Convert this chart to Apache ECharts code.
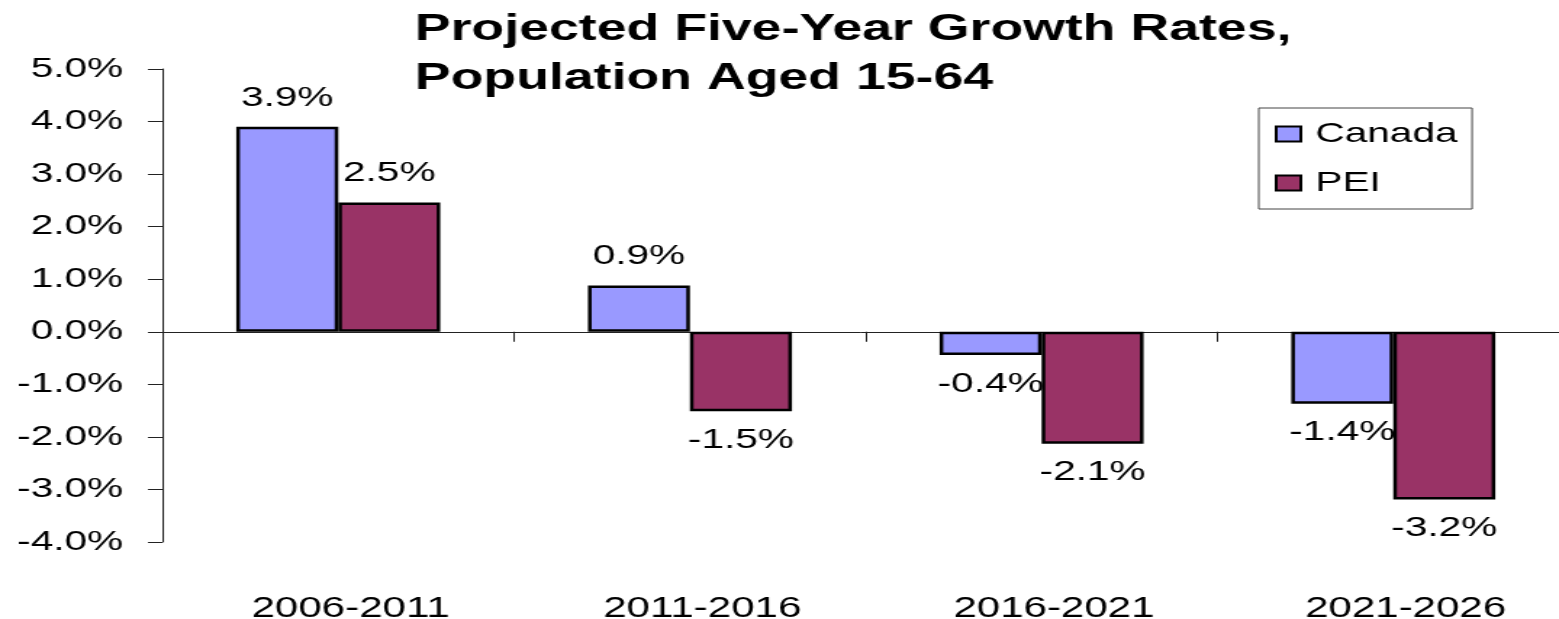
<!DOCTYPE html>
<html>
<head>
<meta charset="utf-8">
<title>Projected Five-Year Growth Rates</title>
<script src="https://cdn.jsdelivr.net/npm/echarts@6/dist/echarts.min.js"></script>
<style>
  html, body { margin: 0; padding: 0; background: #fff; overflow: hidden; }
  /* the source picture is stretched sideways, so the chart is drawn narrow and scaled */
  #chart { width: 1075px; height: 619px; transform: scaleX(1.4502); transform-origin: 0 0; }
</style>
</head>
<body>
<div id="chart"></div>
<script>
// 数据
const categories = ['2006-2011', '2011-2016', '2016-2021', '2021-2026']
const canadaValues = [3.9, 0.88, -0.44, -1.37]
const peiValues = [2.46, -1.51, -2.13, -3.19]
const yTicks = { min: -4, max: 5, interval: 1 }

const fontFamily = '"Liberation Sans", Arial, sans-serif'

function makeSeries(name, data, color) {
  return {
    name: name,
    type: 'bar',
    barGap: '0%',
    barCategoryGap: '42%',
    data: data,
    itemStyle: {
      color: color,
      borderColor: '#000',
      borderWidth: 2.5
    },
    label: {
      show: true,
      position: 'outside',
      distance: 15,
      fontFamily: fontFamily,
      fontSize: 28,
      color: '#000',
      formatter: function(p) {
        return p.value.toFixed(1) + '%'
      }
    }
  }
}

const chart = echarts.init(document.getElementById('chart'))
chart.setOption({
  backgroundColor: '#fff',
  animation: false,
  title: {
    text: 'Projected Five-Year Growth Rates,\nPopulation Aged 15-64',
    left: 286,
    top: 5,
    padding: 0,
    textStyle: {
      fontFamily: fontFamily,
      fontWeight: 'bold',
      fontSize: 37,
      lineHeight: 49,
      color: '#000'
    }
  },
  legend: {
    orient: 'vertical',
    left: 868,
    top: 108,
    padding: [12, 10, 12, 11],
    itemGap: 21,
    itemWidth: 17,
    itemHeight: 15,
    borderColor: '#444',
    borderWidth: 1,
    icon: 'rect',
    data: ['Canada', 'PEI'],
    itemStyle: {
      borderColor: '#000',
      borderWidth: 2
    },
    textStyle: {
      fontFamily: fontFamily,
      fontSize: 28,
      color: '#000',
      padding: [0, 0, 0, 5]
    }
  },
  grid: {
    left: 112,
    right: -7,
    top: 69,
    bottom: 77,
    containLabel: false,
    outerBoundsMode: 'none'
  },
  xAxis: [{
    // 零线和刻度
    type: 'category',
    data: categories,
    axisLine: {
      onZero: true,
      lineStyle: { color: '#222', width: 1 }
    },
    axisTick: {
      show: true,
      length: 10,
      lineStyle: { color: '#222' }
    },
    axisLabel: { show: false }
  }, {
    // 底部的类目标签
    type: 'category',
    position: 'bottom',
    data: categories,
    axisLine: { show: false, onZero: false },
    axisTick: { show: false },
    axisLabel: {
      margin: 52,
      padding: [0, 0, 0, 17],
      fontFamily: fontFamily,
      fontSize: 29,
      color: '#000'
    }
  }],
  yAxis: {
    type: 'value',
    min: yTicks.min,
    max: yTicks.max,
    interval: yTicks.interval,
    splitLine: { show: false },
    axisLine: {
      show: true,
      lineStyle: { color: '#222', width: 1 }
    },
    axisTick: {
      show: true,
      length: 10,
      lineStyle: { color: '#222' }
    },
    axisLabel: {
      margin: 27,
      fontFamily: fontFamily,
      fontSize: 28,
      color: '#000',
      formatter: function(v) {
        return v.toFixed(1) + '%'
      }
    }
  },
  series: [
    makeSeries('Canada', canadaValues, '#9999FF'),
    makeSeries('PEI', peiValues, '#993366')
  ]
})
</script>
</body>
</html>
